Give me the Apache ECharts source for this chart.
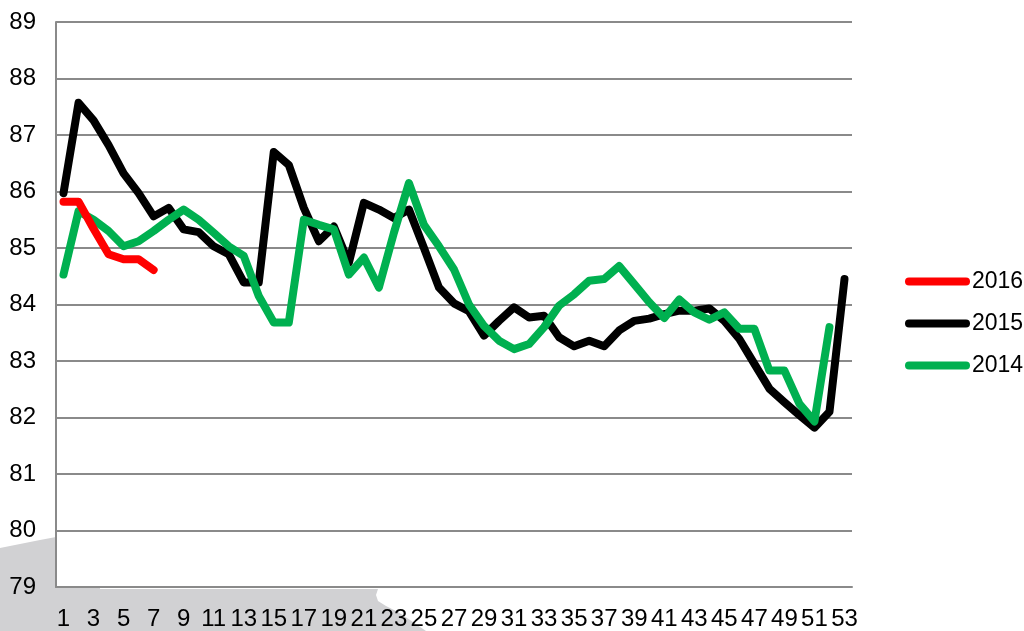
<!DOCTYPE html>
<html>
<head>
<meta charset="utf-8">
<script src="https://cdn.jsdelivr.net/npm/echarts@6/dist/echarts.min.js"></script>
<style>html,body{margin:0;padding:0;background:#fff;}#c{width:1024px;height:631px;}</style>
</head>
<body>
<div id="c"></div>
<script>
var weeks = ['1','2','3','4','5','6','7','8','9','10','11','12','13','14','15','16','17','18','19','20','21','22','23','24','25','26','27','28','29','30','31','32','33','34','35','36','37','38','39','40','41','42','43','44','45','46','47','48','49','50','51','52','53'];
var seriesNames = ['2016','2015','2014'];
var values2016 = [85.82, 85.82, 85.34, 84.89, 84.80, 84.80, 84.61];
var values2015 = [85.97, 87.57, 87.26, 86.82, 86.32, 85.97, 85.56, 85.71, 85.33, 85.28, 85.03, 84.89, 84.39, 84.39, 86.70, 86.47, 85.71, 85.12, 85.38, 84.74, 85.80, 85.68, 85.53, 85.68, 85.00, 84.30, 84.02, 83.88, 83.45, 83.71, 83.95, 83.77, 83.80, 83.42, 83.26, 83.36, 83.26, 83.54, 83.71, 83.75, 83.83, 83.89, 83.89, 83.93, 83.71, 83.39, 82.95, 82.51, 82.27, 82.04, 81.82, 82.10, 84.45];
var values2014 = [84.53, 85.65, 85.50, 85.30, 85.03, 85.12, 85.30, 85.50, 85.68, 85.50, 85.27, 85.03, 84.86, 84.15, 83.68, 83.68, 85.50, 85.41, 85.33, 84.53, 84.83, 84.30, 85.27, 86.15, 85.41, 85.03, 84.62, 84.00, 83.62, 83.36, 83.21, 83.30, 83.60, 83.98, 84.18, 84.42, 84.45, 84.68, 84.36, 84.04, 83.76, 84.09, 83.86, 83.73, 83.86, 83.57, 83.57, 82.83, 82.83, 82.24, 81.93, 83.60, null];
var yMin = 79, yMax = 89, yStep = 1;

var FONT = '"Liberation Sans", Arial, sans-serif';
var chart = echarts.init(document.getElementById('c'), null, {renderer: 'canvas'});
function lineSeries(name, data, color, z) {
  return {
    name: name, type: 'line', data: data, symbol: 'none', z: z,
    lineStyle: {color: color, width: 8, cap: 'round', join: 'round'},
    itemStyle: {color: color}
  };
}
var capsule = 'path://M4,0 L61,0 A4,4 0 0 1 61,8 L4,8 A4,4 0 0 1 4,0 Z';
chart.setOption({
  animation: false,
  backgroundColor: '#ffffff',
  graphic: [{
    type: 'polygon', z: -10, silent: true,
    shape: {points: [[0,548],[20,544],[40,540],[56,537],[100,530],[100,589],[378,589],[376,595],[378,601],[386,606],[398,612],[410,620],[420,627],[426,631],[0,631]]},
    style: {fill: '#d1d1d3'}
  }],
  grid: {left: 56, right: 172, top: 22, bottom: 42, show: true, backgroundColor: '#ffffff', borderWidth: 0},
  legend: {
    orient: 'vertical', left: 900, top: 265, itemGap: 19,
    itemWidth: 65, itemHeight: 8,
    data: [
      {name: '2016', icon: capsule},
      {name: '2015', icon: capsule},
      {name: '2014', icon: capsule}
    ],
    textStyle: {fontFamily: FONT, fontSize: 23, color: '#000', padding: [0, 0, 0, -3]}
  },
  xAxis: {
    type: 'category', data: weeks, boundaryGap: true,
    axisLine: {show: true, lineStyle: {color: '#8a8a8a', width: 2}},
    axisTick: {show: false},
    axisLabel: {interval: 1, color: '#000', fontFamily: FONT, fontSize: 24, margin: 20},
    splitLine: {show: false}
  },
  yAxis: {
    type: 'value', min: yMin, max: yMax, interval: yStep,
    axisLine: {show: true, lineStyle: {color: '#8a8a8a', width: 2}},
    axisTick: {show: false},
    axisLabel: {color: '#000', fontFamily: FONT, fontSize: 24, margin: 20, padding: [10, 0, 0, 0]},
    splitLine: {show: true, lineStyle: {color: '#8a8a8a', width: 2}}
  },
  series: [
    lineSeries(seriesNames[1], values2015, '#000000', 2),
    lineSeries(seriesNames[2], values2014, '#00b050', 3),
    lineSeries(seriesNames[0], values2016, '#ff0000', 4)
  ]
});
</script>
</body>
</html>
